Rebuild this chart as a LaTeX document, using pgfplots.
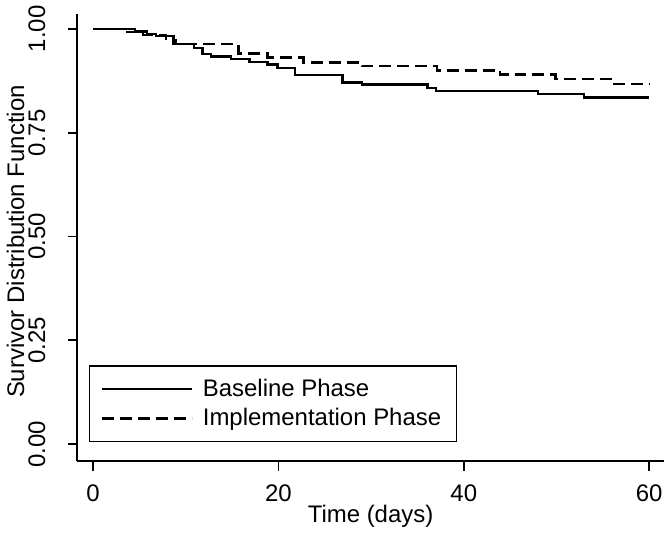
\documentclass[border=0pt]{standalone}
\usepackage{pgfplots}
\pgfplotsset{compat=1.18}
\usepackage{fontspec}
\setmainfont{Liberation Sans}
\begin{document}
\begin{tikzpicture}
\begin{axis}[
  scale only axis, width=294pt, height=224pt,
  xmin=-1.72, xmax=61.6, ymin=-0.041, ymax=1.036,
  axis x line*=bottom, axis y line*=left,
  axis line style={line width=0.9pt,-},
  every tick/.style={line width=0.9pt,black},
  tick align=outside, major tick length=4.75pt,
  xtick={0,20,40,60}, ytick={0,0.25,0.5,0.75,1},
  /pgf/number format/assume math mode=true,
  yticklabel style={/pgf/number format/fixed, /pgf/number format/fixed zerofill, /pgf/number format/precision=2},
  yticklabel style={rotate=90, anchor=south, inner sep=0pt, yshift=11pt},
  xticklabel style={inner sep=0pt, yshift=-7pt},
  tick label style={font=\fontsize{12}{14}\selectfont},
  label style={font=\fontsize{12}{14}\selectfont},
  xlabel={Time (days)}, ylabel={Survivor Distribution Function},
  xlabel style={yshift=2pt},
  ylabel style={yshift=-1.5pt, xshift=-2pt},
  legend style={at={(axis description cs:0.0204,0.0424)}, anchor=south west,
    draw=black, line width=0.6pt, font=\fontsize{12}{14}\selectfont,
    inner xsep=5.5pt, inner ysep=4.5pt, row sep=0.5pt, cells={anchor=west}},
  legend image code/.code={\draw[#1] (0pt,0pt) -- (45pt,0pt); \path (48pt,0pt);},
  clip=false,
]
\coordinate (bl) at (rel axis cs:0,0);
\coordinate (tr) at (rel axis cs:1,1);
\addplot[const plot, black, line width=1.2pt] coordinates {
(0,1.000) (4.5,0.994) (5.8,0.988) (6.8,0.983) (8.7,0.963) (10.9,0.954)
(11.8,0.940) (12.7,0.934) (14.9,0.927) (16.9,0.920) (18.8,0.914)
(19.9,0.906) (21.8,0.889) (26.9,0.871) (29.0,0.866) (36.1,0.858)
(37.0,0.851) (48.0,0.843) (53.0,0.835) (60.0,0.835)
};
\addlegendentry{Baseline Phase}
\addplot[const plot, black, line width=1.2pt, dash pattern=on 6pt off 3pt] coordinates {
(0,1.000) (3.7,0.992) (5.4,0.986) (7.9,0.974) (8.9,0.963) (15.7,0.941)
(18.8,0.931) (22.7,0.919) (29.0,0.910) (37.1,0.900) (43.9,0.890)
(49.9,0.879) (56.0,0.868) (60.0,0.868)
};
\addlegendentry{Implementation Phase\hspace{8pt}}
\end{axis}
\path ([shift={(-38pt,-34.5pt)}]bl) rectangle ([shift={(4pt,7pt)}]tr);
\end{tikzpicture}
\end{document}
